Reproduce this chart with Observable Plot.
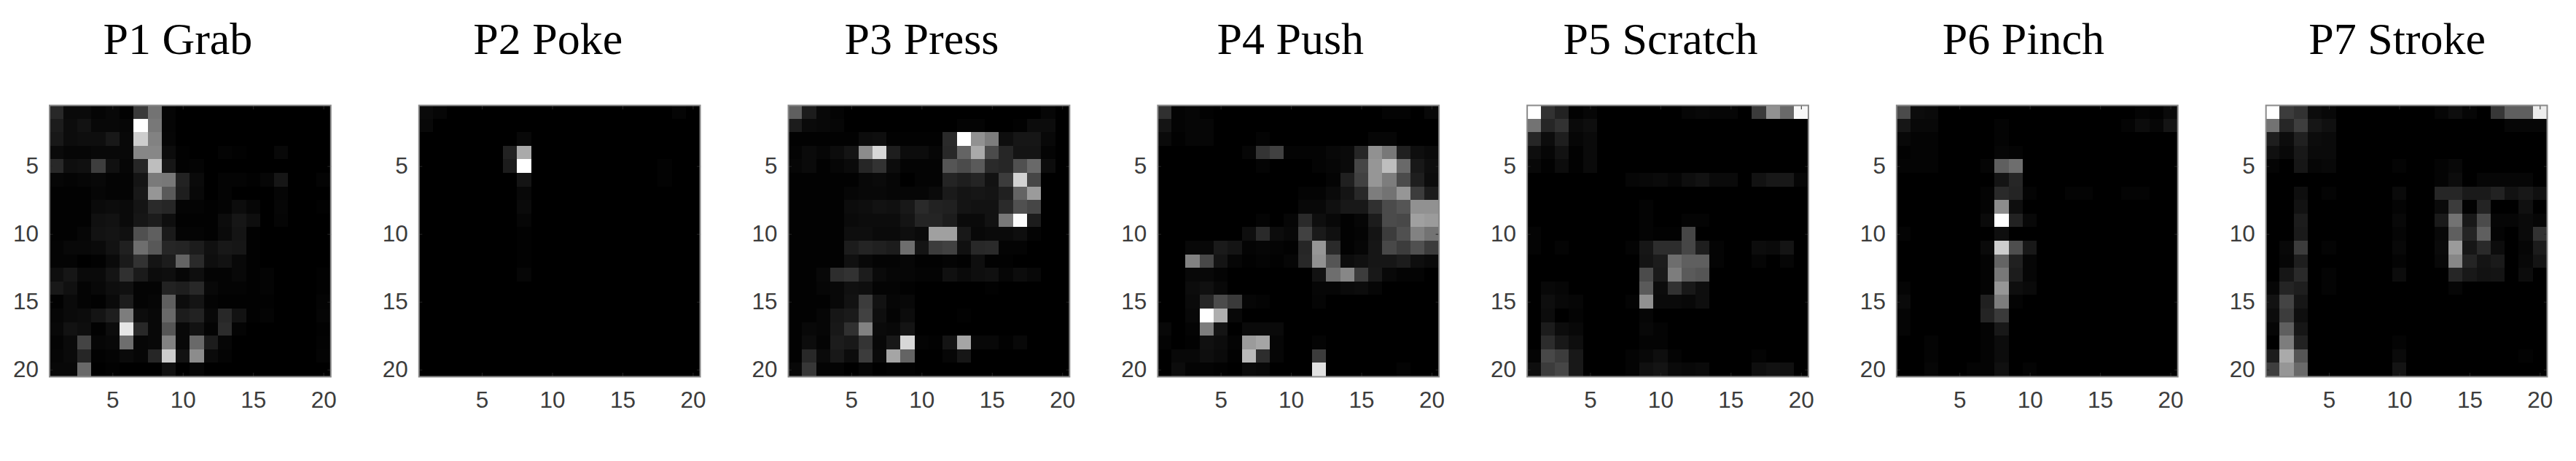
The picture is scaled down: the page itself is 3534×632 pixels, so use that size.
<!DOCTYPE html>
<html><head><meta charset="utf-8">
<script src="https://cdn.jsdelivr.net/npm/d3@7"></script>
<script src="https://cdn.jsdelivr.net/npm/@observablehq/plot@0.6"></script>
<style>html,body{margin:0;padding:0;background:#fff}</style>
</head><body><div id="chart"></div>
<script>
const titles = ["P1 Grab","P2 Poke","P3 Press","P4 Push","P5 Scratch","P6 Pinch","P7 Stroke"];
const titleShift = [-17,-16,-10,-11,-10,-19,-13];
const tickValues = [5,10,15,20];
const index = d3.range(1,21);
// grey level (0-255) of each cell, row by row
const p1 = [
[40,10,10,5,8,2,58,115,5,0,0,0,0,0,0,0,0,0,0,0],
[28,12,18,8,8,6,255,120,5,0,0,0,0,0,0,0,0,0,0,0],
[24,12,14,14,24,8,205,130,6,0,0,0,0,0,0,0,0,0,0,0],
[10,6,6,8,8,8,135,135,12,2,0,0,4,2,0,0,8,0,0,0],
[40,14,16,62,16,6,38,190,22,2,4,0,0,0,0,0,0,0,0,0],
[6,4,6,8,4,4,20,122,120,34,10,0,4,4,2,6,22,0,0,4],
[2,2,2,6,4,4,24,150,90,30,8,0,4,0,0,0,5,0,0,0],
[2,2,2,10,12,10,20,42,38,4,4,2,4,12,6,0,6,0,0,2],
[2,2,2,16,18,10,22,28,14,2,2,2,12,22,14,0,5,0,0,0],
[2,2,6,18,20,16,80,95,26,4,4,2,10,20,2,0,0,0,0,0],
[4,8,8,10,18,32,110,88,38,36,28,16,24,22,2,0,0,0,0,0],
[4,4,0,2,10,26,50,20,28,100,42,14,18,8,2,0,0,0,0,0],
[14,22,10,10,20,48,26,12,14,6,14,4,4,8,2,4,0,0,0,2],
[24,16,4,8,14,16,4,4,34,30,40,8,4,4,2,4,0,0,0,2],
[2,10,4,2,10,28,4,6,95,12,20,4,2,2,2,2,0,0,0,4],
[6,10,12,20,30,125,12,8,105,28,34,8,40,18,2,4,0,0,0,5],
[8,18,14,2,12,230,40,8,85,8,18,4,44,4,0,0,0,0,0,2],
[4,10,68,6,8,110,6,8,130,8,105,28,6,0,0,0,0,0,0,3],
[6,10,38,2,4,10,6,38,205,18,140,10,4,0,0,0,0,0,0,4],
[8,8,105,0,2,0,0,0,16,0,6,0,0,0,0,0,0,0,0,0]];
const p2 = [
[10,6,0,0,0,0,0,0,0,0,0,0,0,0,0,0,0,0,5,0],
[8,0,0,0,0,0,0,0,0,0,0,0,0,0,0,0,0,0,0,0],
[0,0,0,0,0,0,0,8,0,0,0,0,0,0,0,0,0,0,0,0],
[0,0,0,0,0,0,34,170,0,0,0,0,0,0,0,0,0,0,0,0],
[0,0,0,0,0,0,28,255,0,0,0,0,0,0,0,0,0,3,0,0],
[0,0,0,0,0,0,0,20,0,0,0,0,0,0,0,0,0,3,0,0],
[0,0,0,0,0,0,0,8,0,0,0,0,0,0,0,0,0,0,0,0],
[0,0,0,0,0,0,0,10,0,0,0,0,0,0,0,0,0,0,0,0],
[0,0,0,0,0,0,0,6,0,0,0,0,0,0,0,0,0,0,0,0],
[0,0,0,0,0,0,0,2,0,0,0,0,0,0,0,0,0,0,0,0],
[0,0,0,0,0,0,0,2,0,0,0,0,0,0,0,0,0,0,0,0],
[0,0,0,0,0,0,0,2,0,0,0,0,0,0,0,0,0,0,0,0],
[0,0,0,0,0,0,0,6,0,0,0,0,0,0,0,0,0,0,0,0],
[0,0,0,0,0,0,0,0,0,0,0,0,0,0,0,0,0,0,0,0],
[0,0,0,0,0,0,0,0,0,0,0,0,0,0,0,0,0,0,0,0],
[0,0,0,0,0,0,0,0,0,0,0,0,0,0,0,0,0,0,0,0],
[0,0,0,0,0,0,0,0,0,0,0,0,0,0,0,0,0,0,0,0],
[0,0,0,0,0,0,0,0,0,0,0,0,0,0,0,0,0,0,0,0],
[0,0,0,0,0,0,0,0,0,0,0,0,0,0,0,0,0,0,0,0],
[0,0,0,0,0,0,0,0,0,0,0,0,0,0,0,0,0,0,0,0]];
const p3 = [
[95,28,8,4,0,0,0,0,0,0,0,0,0,0,0,0,0,0,6,0],
[28,10,8,6,0,0,0,0,0,0,0,0,4,4,0,0,2,12,12,0],
[2,2,2,2,2,12,14,2,2,2,2,42,255,145,125,14,22,22,8,0],
[4,10,6,12,20,140,215,30,12,12,6,40,100,170,75,38,20,20,4,0],
[6,10,2,6,10,38,50,12,4,4,4,85,75,90,42,38,80,105,12,0],
[2,2,2,2,2,8,10,6,0,4,4,36,30,36,18,60,210,70,0,0],
[2,2,2,2,6,8,8,6,6,6,10,26,20,22,20,32,100,155,0,0],
[2,2,2,2,12,14,18,16,24,42,34,32,20,18,18,42,80,70,0,0],
[2,2,2,2,10,12,12,12,20,36,36,28,10,10,18,120,252,28,0,0],
[2,2,2,2,14,14,10,10,14,10,160,160,24,8,10,10,14,4,0,0],
[2,2,2,2,28,36,32,28,110,20,60,65,16,40,42,4,4,0,0,0],
[2,2,2,2,16,8,4,4,6,2,2,4,2,14,2,2,0,0,0,0],
[2,2,8,45,50,28,10,6,6,4,4,16,10,14,16,6,12,8,0,0],
[2,2,6,8,16,14,4,4,2,0,0,0,0,0,2,0,0,0,0,0],
[2,2,2,8,18,60,18,6,8,0,0,0,0,0,0,0,0,0,0,0],
[2,2,6,22,26,65,14,4,12,0,0,0,2,0,0,0,0,0,0,0],
[2,8,6,24,48,130,10,8,20,0,0,0,0,0,0,0,0,0,0,0],
[2,12,4,28,24,52,8,24,215,4,2,20,165,8,8,2,8,0,0,0],
[2,40,10,24,12,60,10,165,100,0,0,6,22,0,0,0,0,0,0,0],
[8,55,4,4,0,6,0,2,2,0,0,0,0,0,0,0,0,0,0,0]];
const p4 = [
[48,4,6,2,0,0,0,0,0,0,0,0,0,0,0,0,4,4,0,8],
[20,4,6,6,0,0,0,0,0,0,0,0,0,0,0,0,0,0,0,0],
[10,2,6,6,0,0,0,4,0,0,0,0,0,0,0,6,6,0,0,0],
[0,0,0,0,0,0,6,52,65,4,4,4,8,10,38,145,120,32,14,10],
[0,0,0,0,0,0,0,4,0,0,0,4,6,10,70,150,190,105,24,14],
[0,0,0,0,0,0,0,0,0,0,0,0,4,32,65,150,125,75,30,12],
[0,0,0,0,0,0,0,0,0,0,4,4,10,20,40,125,115,150,60,28],
[0,0,0,0,0,0,0,0,0,0,8,8,16,24,24,48,75,85,145,145],
[0,0,0,0,0,0,0,4,0,6,42,14,8,2,6,28,75,72,160,155],
[0,0,0,0,0,0,14,42,12,8,65,26,16,2,4,20,60,80,130,115],
[0,0,8,8,26,20,4,6,4,2,38,150,42,2,6,22,72,60,80,60],
[0,0,130,72,20,6,2,4,2,6,40,145,85,12,16,22,22,28,14,10],
[0,0,8,8,4,0,0,0,0,0,0,18,110,135,60,24,8,4,4,0],
[0,0,12,16,8,0,0,0,0,0,0,6,6,10,12,6,0,0,0,0],
[0,0,10,38,75,58,6,4,0,0,0,5,0,0,0,0,0,0,0,0],
[0,0,8,255,175,8,0,0,0,0,0,0,0,0,0,0,0,0,0,0],
[8,0,4,125,20,0,10,10,10,0,0,0,0,0,0,0,0,0,0,0],
[4,0,2,16,12,4,155,165,6,0,0,4,0,0,0,0,0,0,0,0],
[0,8,8,14,10,2,185,45,6,0,0,60,0,0,0,0,0,0,0,0],
[0,12,4,4,2,0,10,8,0,0,0,225,0,0,0,0,0,4,0,0]];
const p5 = [
[255,50,34,2,6,0,0,0,0,0,0,6,8,6,6,0,58,145,105,248],
[115,38,50,10,14,0,0,0,0,0,0,0,0,0,0,0,0,0,0,0],
[38,12,30,6,10,0,0,0,0,0,0,0,0,0,0,0,0,0,0,0],
[14,6,18,2,10,0,0,0,0,0,0,0,0,0,0,0,0,0,0,0],
[8,2,12,2,10,0,0,0,0,0,0,0,0,0,0,0,0,0,0,0],
[0,0,0,0,0,0,0,6,8,10,6,14,18,10,10,0,18,24,24,6],
[0,0,0,0,0,0,0,0,0,0,0,0,0,0,0,0,0,0,0,0],
[0,0,0,0,0,0,0,0,4,0,0,0,0,0,0,0,0,0,0,0],
[0,0,0,0,0,0,0,0,4,0,0,4,4,0,0,0,0,0,0,0],
[4,0,0,0,0,0,0,0,4,2,2,70,0,0,0,0,0,0,0,0],
[4,0,4,0,0,0,0,4,22,45,45,70,30,4,0,0,12,10,20,0],
[0,0,0,0,0,0,0,0,20,28,110,95,95,4,0,0,5,0,6,0],
[0,0,0,0,0,0,0,0,75,26,125,90,85,0,0,0,0,0,0,0],
[0,8,6,0,0,0,0,0,90,12,50,24,14,0,0,0,0,0,0,0],
[0,14,8,6,0,0,0,4,145,10,10,8,14,0,0,0,0,0,0,0],
[0,12,0,4,0,0,0,0,6,0,0,0,0,0,0,0,0,0,0,0],
[0,28,12,8,0,0,0,0,8,4,0,0,0,0,0,0,0,0,0,0],
[0,44,24,14,0,0,0,0,4,4,0,0,0,0,0,0,0,0,0,0],
[4,72,60,24,0,0,0,4,8,14,4,0,0,0,0,0,4,0,0,0],
[14,60,70,24,0,0,0,4,16,20,10,8,10,0,0,0,14,18,16,0]];
const p6 = [
[75,12,10,0,0,0,0,0,0,0,0,0,0,0,0,0,0,4,2,10],
[22,8,8,0,0,0,0,4,0,0,0,0,0,0,0,0,4,12,6,20],
[8,4,4,0,0,0,0,4,0,0,0,0,0,0,0,0,0,0,0,0],
[2,4,4,0,0,0,0,6,4,0,0,0,0,0,0,0,0,0,0,0],
[4,4,4,0,0,0,5,95,110,0,0,0,0,0,0,0,0,0,0,0],
[0,0,0,0,0,0,0,20,38,0,0,0,0,0,0,0,0,0,0,0],
[0,0,0,0,0,0,4,42,36,4,0,0,4,4,0,0,4,4,0,0],
[0,0,0,0,0,0,4,140,14,0,0,0,0,0,0,0,0,0,0,0],
[0,0,0,0,0,0,10,255,34,8,0,0,0,0,0,0,0,0,0,0],
[4,0,0,0,0,0,0,14,0,0,0,0,0,0,0,0,0,0,0,0],
[0,0,0,0,0,0,10,205,78,24,0,0,0,0,0,0,0,0,0,0],
[0,0,0,0,0,0,4,100,32,6,0,0,0,0,0,0,0,0,0,0],
[0,0,0,0,0,0,4,120,28,6,0,0,0,0,0,0,0,0,0,0],
[5,0,0,0,0,0,4,150,14,10,0,0,0,0,0,0,0,0,0,0],
[10,0,0,0,0,0,32,125,4,0,0,0,0,0,0,0,0,0,0,0],
[5,0,0,0,0,0,36,58,0,0,0,0,0,0,0,0,0,0,0,0],
[5,0,0,0,0,0,4,24,0,0,0,0,0,0,0,0,0,0,0,0],
[0,0,4,0,0,0,4,12,0,0,0,0,0,0,0,0,0,0,0,0],
[0,0,4,0,0,0,4,12,0,0,0,0,0,0,0,0,0,0,0,0],
[0,0,6,0,0,4,4,16,0,4,0,0,0,0,0,0,0,0,0,0]];
const p7 = [
[255,60,50,12,8,0,0,0,0,0,0,0,6,14,6,0,55,95,95,238],
[115,38,62,22,16,0,0,0,0,0,0,0,0,0,0,0,0,6,6,6],
[30,12,32,12,10,0,0,0,0,0,0,0,0,0,0,0,0,0,0,0],
[16,8,24,10,10,0,0,0,0,0,0,0,0,0,0,0,0,0,0,0],
[4,0,22,6,8,0,0,0,0,4,0,0,4,8,0,0,0,0,0,0],
[0,0,0,0,0,0,0,0,0,0,0,0,4,12,0,6,6,6,6,0],
[0,0,14,0,4,0,0,0,0,10,0,0,38,38,26,26,34,18,24,16],
[0,0,18,0,0,0,0,0,0,4,0,0,10,60,2,36,0,0,16,0],
[0,0,28,0,0,0,0,0,0,8,0,0,26,115,24,75,6,6,10,6],
[0,0,26,0,0,0,0,0,0,5,0,0,8,95,36,95,4,0,10,50],
[0,8,60,0,4,0,0,0,0,8,0,0,10,155,22,42,12,0,6,28],
[0,6,30,0,0,0,0,0,0,4,0,0,8,135,36,20,26,0,8,20],
[0,22,42,0,4,0,0,0,0,12,0,0,0,38,24,18,20,0,12,0],
[6,36,30,0,4,0,0,0,0,0,0,0,0,6,0,0,0,0,0,0],
[18,68,22,0,0,0,0,0,0,0,0,0,0,0,0,0,0,0,0,0],
[12,60,14,0,0,0,0,0,0,0,0,0,0,0,0,0,0,0,0,0],
[6,95,22,0,0,0,0,0,0,0,0,0,0,0,0,0,0,0,0,0],
[0,125,34,0,0,0,0,0,0,4,0,0,0,0,0,0,0,0,0,0],
[28,170,85,0,0,0,0,0,0,10,0,0,0,0,0,0,0,0,3,0],
[62,150,105,0,0,0,0,0,0,20,0,0,0,0,0,0,0,0,0,0]];

const panels = [p1,p2,p3,p4,p5,p6,p7];
const cells = panels.flatMap((grid,k) => grid.flatMap((row,r) => row.map((v,c) => ({panel:titles[k], col:c+1, row:r+1, v}))));

const tickColor = "#262626";
const labelColor = "#3c3c3c";
const chart = Plot.plot({
  width: 3534, height: 632,
  marginLeft: 67.5, marginRight: 40, marginTop: 144, marginBottom: 116,
  style: {background:"#fff"},
  fx: {domain:titles, paddingInner:0.2387, paddingOuter:0, round:false, axis:null, label:null},
  x: {type:"band", domain:index, padding:0, round:false, axis:null, label:null},
  y: {type:"band", domain:index, padding:0, round:false, axis:null, label:null},
  color: {type:"linear", domain:[0,255], range:["#000","#fff"]},
  marks: [
    Plot.frame({fill:"#000"}),
    Plot.cell(cells.filter(d => d.v > 0), {fx:"panel", x:"col", y:"row", fill:"v", shapeRendering:"crispEdges"}),
    Plot.axisX(tickValues, {anchor:"bottom", tickSize:-5, fill:"none", stroke:tickColor, label:null, facetAnchor:null}),
    Plot.axisX(tickValues, {anchor:"top", tickSize:-5, fill:"none", stroke:tickColor, label:null, facetAnchor:null}),
    Plot.axisY(tickValues, {anchor:"left", tickSize:-5, fill:"none", stroke:tickColor, label:null, facetAnchor:null}),
    Plot.axisY(tickValues, {anchor:"right", tickSize:-5, fill:"none", stroke:tickColor, label:null, facetAnchor:null}),
    Plot.axisX(tickValues, {anchor:"bottom", tickSize:0, tickPadding:20, fontSize:31.5, fontFamily:"Liberation Sans", fill:labelColor, label:null, facetAnchor:null}),
    Plot.axisY(tickValues, {anchor:"left", tickSize:0, tickPadding:15, fontSize:31.5, fontFamily:"Liberation Sans", fill:labelColor, label:null, facetAnchor:null}),
    Plot.frame({stroke:"#8a8a8a", strokeWidth:2}),
    ...titles.map((t,i) => Plot.text([t], {
      fx:d=>d, text:d=>d, frameAnchor:"top", dy:-71, dx:titleShift[i],
      lineAnchor:"bottom", fontSize:62, fontFamily:"Liberation Serif", fill:"#000"
    }))
  ]
});
document.getElementById("chart").append(chart);
</script></body></html>
